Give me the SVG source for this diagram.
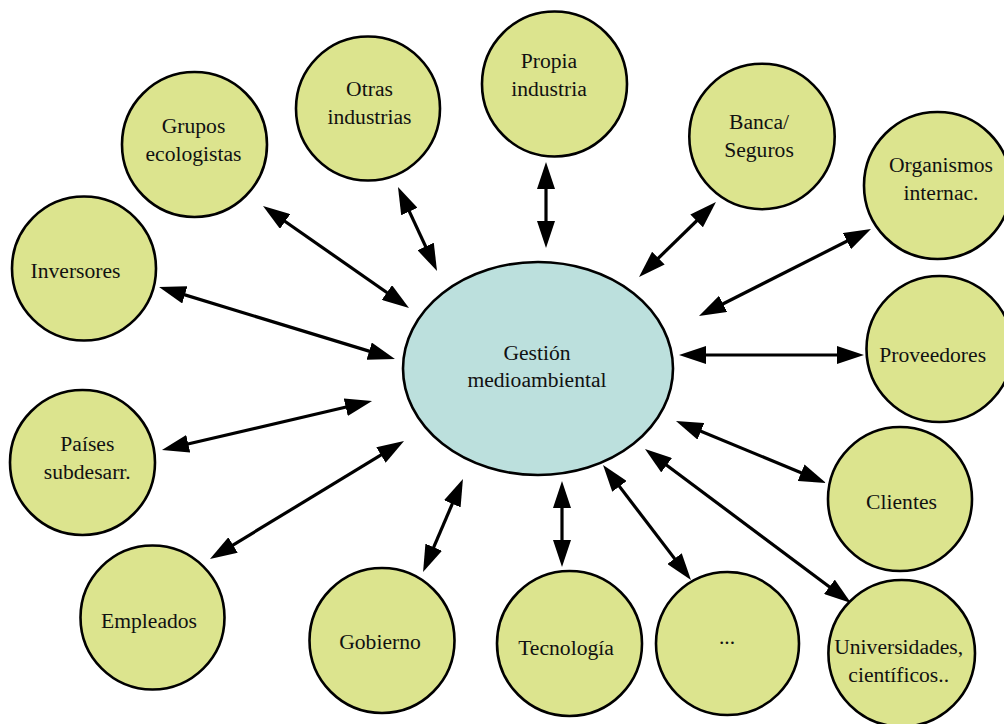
<svg xmlns="http://www.w3.org/2000/svg" width="1004" height="724" viewBox="0 0 1004 724">
<style>
.n{fill:#dce48e;stroke:#000;stroke-width:2.6}
.c{fill:#bce0dd;stroke:#000;stroke-width:2.6}
text{font-family:"Liberation Serif","Times New Roman",serif;font-size:21.6px;fill:#111;text-anchor:middle}
#links line{stroke:#000;stroke-width:3.2;marker-start:url(#ah);marker-end:url(#ah)}
</style>
<defs>
<marker id="ah" viewBox="0 0 27 18" refX="17" refY="9" markerWidth="27" markerHeight="18" markerUnits="userSpaceOnUse" orient="auto-start-reverse">
<path d="M0,0 L27,9 L0,18 z" fill="#000"/>
</marker>
</defs>
<rect width="1004" height="724" fill="#fff"/>
<g id="links">
<line x1="546" y1="172" x2="546" y2="238"/>
<line x1="402.2" y1="196.1" x2="432.8" y2="261.9"/>
<line x1="271.2" y1="211.7" x2="400.8" y2="302.3"/>
<line x1="168.6" y1="289.9" x2="385.4" y2="356.1"/>
<line x1="171.7" y1="447.7" x2="362.3" y2="403.3"/>
<line x1="218.5" y1="553.8" x2="395.5" y2="446.2"/>
<line x1="427" y1="562.8" x2="459" y2="488.2"/>
<line x1="562" y1="491" x2="562" y2="557"/>
<line x1="609.1" y1="472.9" x2="684.9" y2="572.1"/>
<line x1="653" y1="455" x2="843" y2="597"/>
<line x1="685.2" y1="424.8" x2="816.8" y2="479.2"/>
<line x1="689" y1="355" x2="854" y2="355"/>
<line x1="862.1" y1="233.5" x2="707.9" y2="311.5"/>
<line x1="708.8" y1="209" x2="646.2" y2="270"/>
</g>
<g id="central">
<ellipse class="c" cx="538" cy="368.5" rx="135" ry="106.5"/>
<text x="537" y="359.5">Gestión</text>
<text x="537" y="387">medioambiental</text>
</g>
<g id="propia">
<circle class="n" cx="554.5" cy="84" r="72.5"/>
<text x="549" y="68">Propia</text>
<text x="549" y="96">industria</text>
</g>
<g id="otras">
<circle class="n" cx="368" cy="108.5" r="72"/>
<text x="369.5" y="96">Otras</text>
<text x="369.5" y="124">industrias</text>
</g>
<g id="grupos">
<circle class="n" cx="194.5" cy="144.5" r="72.5"/>
<text x="193.5" y="132.7">Grupos</text>
<text x="193.5" y="160.7">ecologistas</text>
</g>
<g id="inversores">
<circle class="n" cx="84" cy="268.5" r="72"/>
<text x="75.5" y="278">Inversores</text>
</g>
<g id="paises">
<circle class="n" cx="82.5" cy="462.5" r="72.5"/>
<text x="87.3" y="451">Países</text>
<text x="87.3" y="479">subdesarr.</text>
</g>
<g id="empleados">
<circle class="n" cx="152.5" cy="617.5" r="72"/>
<text x="149" y="628">Empleados</text>
</g>
<g id="gobierno">
<circle class="n" cx="382" cy="640.5" r="72.5"/>
<text x="380" y="649">Gobierno</text>
</g>
<g id="tecnologia">
<circle class="n" cx="569.5" cy="643.5" r="72.5"/>
<text x="566" y="655">Tecnología</text>
</g>
<g id="otros">
<circle class="n" cx="727.5" cy="643.5" r="71.5"/>
<text x="727" y="644">...</text>
</g>
<g id="universidades">
<circle class="n" cx="901.7" cy="653.3" r="73.3"/>
<text x="898.7" y="654">Universidades,</text>
<text x="898.7" y="682">científicos..</text>
</g>
<g id="clientes">
<circle class="n" cx="900" cy="499" r="72"/>
<text x="901.5" y="509">Clientes</text>
</g>
<g id="proveedores">
<circle class="n" cx="939.5" cy="349" r="73"/>
<text x="932.7" y="361.7">Proveedores</text>
</g>
<g id="organismos">
<circle class="n" cx="937.5" cy="185.5" r="73.5"/>
<text x="941" y="172">Organismos</text>
<text x="941" y="200">internac.</text>
</g>
<g id="banca">
<circle class="n" cx="762" cy="136.5" r="72.7"/>
<text x="759" y="129">Banca/</text>
<text x="759" y="157">Seguros</text>
</g>
</svg>
